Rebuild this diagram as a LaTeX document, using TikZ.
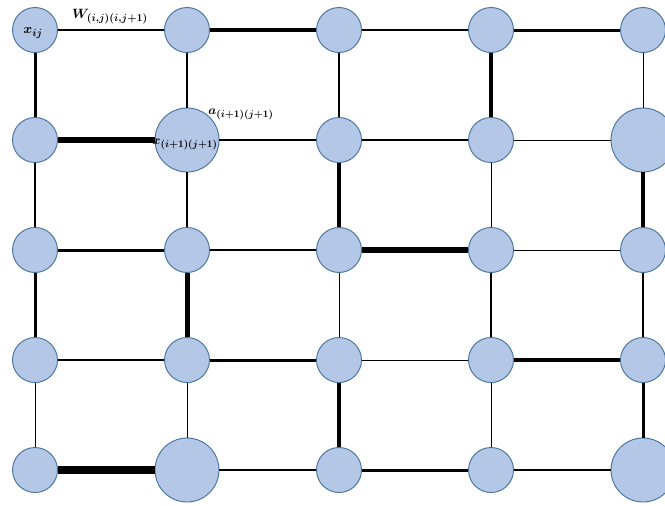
\RequirePackage{fix-cm}
\documentclass[tikz,border=0pt]{standalone}
\DeclareMathSizes{13.5}{13.5}{10.5}{8}
\DeclareMathSizes{12.5}{12.5}{10}{8}
\definecolor{nodefill}{HTML}{B4C7E7}
\definecolor{nodeline}{HTML}{41719C}
\tikzset{
  sn/.style={circle, fill=nodefill, draw=nodeline, line width=0.9pt, minimum size=45pt, inner sep=0pt},
  bn/.style={circle, fill=nodefill, draw=nodeline, line width=0.9pt, minimum size=64pt, inner sep=0pt},
  lbl/.style={inner sep=0pt, font=\fontsize{13.5}{15}\selectfont\boldmath},
  lbls/.style={inner sep=0pt, font=\fontsize{12.5}{14}\selectfont\boldmath},
}
\begin{document}
\begin{tikzpicture}[x=1pt,y=-1pt]
\useasboundingbox (0,0) rectangle (665,506);
\foreach \r/\y in {0/30,1/140,2/250,3/360,4/470}{
  \foreach \c/\x in {0/35,1/187,2/339,3/491,4/643}{
    \coordinate (p\r\c) at (\x,\y);
  }
}
\node[sn] (n00) at (p00) {};
\node[sn] (n01) at (p01) {};
\node[sn] (n02) at (p02) {};
\node[sn] (n03) at (p03) {};
\node[sn] (n04) at (p04) {};
\node[sn] (n10) at (p10) {};
\node[bn] (n11) at (p11) {};
\node[sn] (n12) at (p12) {};
\node[sn] (n13) at (p13) {};
\node[bn] (n14) at (p14) {};
\node[sn] (n20) at (p20) {};
\node[sn] (n21) at (p21) {};
\node[sn] (n22) at (p22) {};
\node[sn] (n23) at (p23) {};
\node[sn] (n24) at (p24) {};
\node[sn] (n30) at (p30) {};
\node[sn] (n31) at (p31) {};
\node[sn] (n32) at (p32) {};
\node[sn] (n33) at (p33) {};
\node[sn] (n34) at (p34) {};
\node[sn] (n40) at (p40) {};
\node[bn] (n41) at (p41) {};
\node[sn] (n42) at (p42) {};
\node[sn] (n43) at (p43) {};
\node[bn] (n44) at (p44) {};
% horizontal edges
\foreach \a/\b/\w in {n00/n01/1.1, n01/n02/4, n02/n03/1.1, n03/n04/3,
                      n10/n11/6, n11/n12/1.1, n12/n13/2, n13/n14/0.9,
                      n20/n21/3, n21/n22/1.4, n22/n23/6, n23/n24/0.9,
                      n30/n31/2, n31/n32/3, n32/n33/0.9, n33/n34/4,
                      n40/n41/8, n41/n42/2, n42/n43/3, n43/n44/1.4}{
  \draw[line width=\w pt] (\a) -- (\b);
}
% vertical edges
\foreach \a/\b/\w in {n00/n10/3, n10/n20/1.1, n20/n30/3, n30/n40/0.9,
                      n01/n11/1.1, n11/n21/1.1, n21/n31/5, n31/n41/0.9,
                      n02/n12/1.1, n12/n22/3.5, n22/n32/0.9, n32/n42/3.5,
                      n03/n13/4, n13/n23/0.9, n23/n33/2, n33/n43/0.9,
                      n04/n14/0.9, n14/n24/4.5, n24/n34/2, n34/n44/3}{
  \draw[line width=\w pt] (\a) -- (\b);
}
% labels
\node[lbl] (lx) at (33,33) {$x_{ij}$};
\node[lbl] (lw) at (110,17) {$W_{(i,j)(i,j+1)}$};
\node[lbls] (la) at (241,114) {$a_{(i+1)(j+1)}$};
\node[lbls] (lx2) at (185,144) {$x_{(i+1)(j+1)}$};
\end{tikzpicture}
\end{document}
